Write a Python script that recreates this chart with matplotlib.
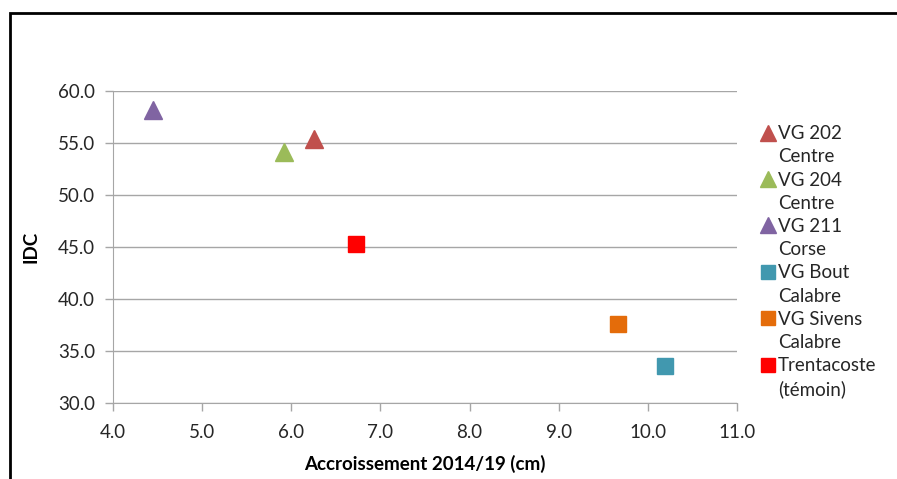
import matplotlib
matplotlib.use('Agg')
import matplotlib.pyplot as plt
from matplotlib.lines import Line2D
from matplotlib.patches import Rectangle

plt.rcParams['font.family'] = ['Lato', 'DejaVu Sans']

# Data
names = ['VG 202', 'VG 204', 'VG 211', 'VG Bout', 'VG Sivens', 'Trentacoste']
origins = ['Centre', 'Centre', 'Corse', 'Calabre', 'Calabre', '(témoin)']
accroissement = [6.26, 5.92, 4.45, 10.19, 9.67, 6.73]
idc = [55.4, 54.1, 58.2, 33.6, 37.6, 45.3]
markers = ['^', '^', '^', 's', 's', 's']
colors = ['#C0504D', '#9BBB59', '#8064A2', '#4198AF', '#E46C0A', '#FF0000']

fig = plt.figure(figsize=(8.97, 4.79), dpi=100)
ax = fig.add_axes([0.126, 0.1587, 0.6956, 0.6513])

for x, y, m, c in zip(accroissement, idc, markers, colors):
    size = 13 if m == '^' else 11.5
    ax.plot(x, y, linestyle='none', marker=m, color=c, markersize=size)

ax.set_xlim(4, 11)
ax.set_ylim(30, 60)
ax.set_xticks([4, 5, 6, 7, 8, 9, 10, 11])
ax.set_yticks([30, 35, 40, 45, 50, 55, 60])
ax.xaxis.set_major_formatter(matplotlib.ticker.FormatStrFormatter('%.1f'))
ax.yaxis.set_major_formatter(matplotlib.ticker.FormatStrFormatter('%.1f'))
ax.grid(axis='y', color='#A6A6A6', linewidth=1)
ax.set_axisbelow(True)
for side in ['top', 'right']:
    ax.spines[side].set_visible(False)
for side in ['left', 'bottom']:
    ax.spines[side].set_color('#A6A6A6')
ax.tick_params(axis='both', colors='#A6A6A6', length=6, width=1,
               labelcolor='#262626', labelsize=13.5)
ax.tick_params(axis='x', pad=9)
ax.tick_params(axis='y', pad=7)

ax.set_xlabel('Accroissement 2014/19 (cm)', fontsize=13.5, fontweight='bold', labelpad=10)
ax.set_ylabel('IDC', fontsize=13.5, fontweight='bold', labelpad=13)

# Legend: name line with marker, origin line below without marker
handles, labels = [], []
for n, o, m, c in zip(names, origins, markers, colors):
    handles.append(Line2D([], [], linestyle='none', marker=m, color=c, markersize=11 if m == '^' else 9.5))
    labels.append(n)
    handles.append(Line2D([], [], linestyle='none'))
    labels.append(o)
fig.legend(handles, labels, loc='upper left', bbox_to_anchor=(0.839, 0.758),
           frameon=False, fontsize=13.5, handlelength=0.6, handletextpad=0.25,
           labelspacing=0.33, borderpad=0, labelcolor='#262626')

# Black frame of the original screenshot
fig.add_artist(Rectangle((10 / 897, -0.05), 1.0, (479 - 13) / 479 + 0.05,
                         transform=fig.transFigure, fill=False,
                         edgecolor='black', linewidth=2))

fig.savefig('out.png', dpi=100)
